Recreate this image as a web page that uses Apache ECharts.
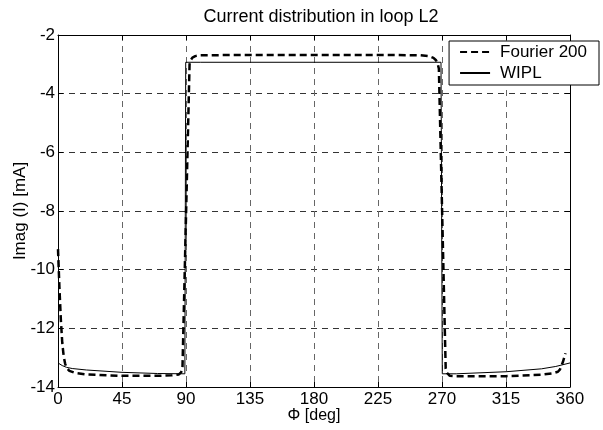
<!DOCTYPE html>
<html>
<head>
<meta charset="utf-8">
<script src="https://cdn.jsdelivr.net/npm/echarts@6/dist/echarts.min.js"></script>
<style>
    html, body { margin: 0; padding: 0; background: #fff; }
    #chart { width: 603px; height: 430px; }
</style>
</head>
<body>
<div id="chart"></div>
<script>
const xTicks = [0, 45, 90, 135, 180, 225, 270, 315, 360];
const yTicks = [-14, -12, -10, -8, -6, -4, -2];

// Fourier 200 (dashed)
const fourierPhi = [0, 1, 2, 3, 4, 5, 6, 8, 12, 20, 45, 70, 80, 85, 86.5, 87.5,
    92.5, 93.3, 94.5, 96.5, 100, 135, 180, 225, 255, 261, 264, 265.8, 267, 267.8,
    272.6, 273.5, 275.5, 280, 315, 340, 348, 351.5, 353, 355, 356.8];
const fourierImag = [-9.3, -10.6, -11.7, -12.5, -12.95, -13.2, -13.35, -13.45, -13.52, -13.57, -13.62, -13.62, -13.6, -13.57, -13.5, -13.4,
    -3.0, -2.86, -2.77, -2.72, -2.69, -2.68, -2.68, -2.68, -2.69, -2.72, -2.78, -2.86, -2.98, -3.15,
    -13.38, -13.52, -13.62, -13.63, -13.63, -13.58, -13.53, -13.48, -13.4, -13.15, -12.85];

// WIPL (solid)
const wiplPhi = [0, 3, 6, 10, 20, 45, 70, 89.2, 89.8, 100, 180, 269.3, 270.2, 280, 315, 340, 350, 360];
const wiplImag = [-13.18, -13.27, -13.33, -13.37, -13.42, -13.5, -13.54, -13.55, -2.93, -2.93, -2.93, -2.93, -13.55, -13.55, -13.48, -13.38, -13.3, -13.18];

const fontFamily = '"Liberation Sans", Arial, sans-serif';

function toPairs(xs, ys) {
    return xs.map((x, i) => [x, ys[i]]);
}

const chart = echarts.init(document.getElementById('chart'));

const frameAxis = {
    show: true,
    onZero: false,
    lineStyle: { color: '#000', width: 1 },
};
const innerTick = { show: true, inside: true, length: 5, lineStyle: { color: '#000' } };

const option = {
    animation: false,
    backgroundColor: '#fff',
    textStyle: { fontFamily: fontFamily },
    title: {
        text: 'Current distribution in loop L2',
        left: 316,
        top: 3,
        textAlign: 'center',
        textStyle: { fontSize: 18, fontWeight: 'normal', color: '#000', fontFamily: fontFamily },
    },
    legend: {
        right: 4,
        top: 41,
        orient: 'vertical',
        align: 'left',
        backgroundColor: '#fff',
        borderColor: '#000',
        borderWidth: 1,
        borderRadius: 0,
        padding: [2, 12, 3, 10],
        itemWidth: 30,
        itemHeight: 14,
        itemGap: 3,
        itemStyle: { opacity: 0 },
        textStyle: { fontSize: 17, lineHeight: 18, color: '#000', fontFamily: fontFamily, padding: [0, 0, 0, 5] },
        data: ['Fourier 200', 'WIPL'],
    },
    grid: { left: 58, right: 33, top: 35, bottom: 43, outerBoundsMode: 'none', containLabel: false },
    xAxis: [
        {
            type: 'value',
            min: 0,
            max: 360,
            interval: 45,
            name: 'Φ [deg]',
            nameLocation: 'middle',
            nameGap: 21,
            nameMoveOverlap: false,
            nameTextStyle: { fontSize: 16, color: '#000' },
            axisLine: frameAxis,
            axisTick: innerTick,
            axisLabel: { fontSize: 17, color: '#000', margin: 4 },
            splitLine: { show: true, lineStyle: { color: '#666', width: 1, type: [6, 5] } },
        },
        {
            type: 'value',
            position: 'top',
            min: 0,
            max: 360,
            interval: 45,
            axisLine: frameAxis,
            axisTick: innerTick,
            axisLabel: { show: false },
            splitLine: { show: false },
        },
    ],
    yAxis: [
        {
            type: 'value',
            min: -14,
            max: -2,
            interval: 2,
            name: 'Imag (I) [mA]',
            nameLocation: 'middle',
            nameRotate: 90,
            nameGap: 29,
            nameMoveOverlap: false,
            nameTextStyle: { fontSize: 17, color: '#000' },
            axisLine: frameAxis,
            axisTick: innerTick,
            axisLabel: { fontSize: 17, color: '#000', margin: 3 },
            splitLine: { show: true, lineStyle: { color: '#000', width: 0.8, type: [6, 5] } },
        },
        {
            type: 'value',
            position: 'right',
            min: -14,
            max: -2,
            interval: 2,
            axisLine: frameAxis,
            axisTick: innerTick,
            axisLabel: { show: false },
            splitLine: { show: false },
        },
    ],
    series: [
        {
            name: 'Fourier 200',
            type: 'line',
            xAxisIndex: 0,
            yAxisIndex: 0,
            showSymbol: false,
            symbol: 'none',
            data: toPairs(fourierPhi, fourierImag),
            lineStyle: { color: '#000', width: 2.5, type: [7, 4] },
            itemStyle: { color: '#000' },
            z: 3,
        },
        {
            name: 'WIPL',
            type: 'line',
            xAxisIndex: 0,
            yAxisIndex: 0,
            showSymbol: false,
            symbol: 'none',
            data: toPairs(wiplPhi, wiplImag),
            lineStyle: { color: '#000', width: 1 },
            itemStyle: { color: '#000' },
            z: 4,
        },
    ],
};

chart.setOption(option);
</script>
</body>
</html>
